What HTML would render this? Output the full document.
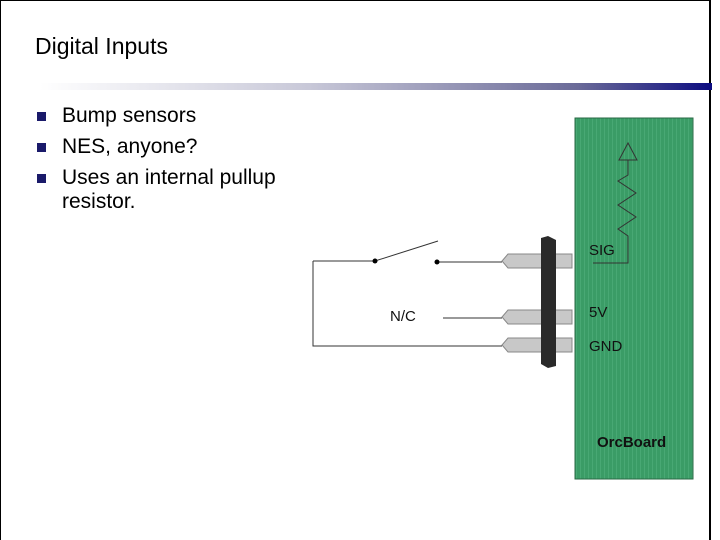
<!DOCTYPE html>
<html><head><style>
body{margin:0;width:720px;height:540px;overflow:hidden;background:#fff;font-family:"Liberation Sans",sans-serif;}
.t{position:absolute;left:35px;top:33px;font-size:23px;color:#000;}
.bar{position:absolute;left:40px;top:83px;width:672px;height:7px;background:linear-gradient(90deg,#fff 0%,#c8c8d8 40%,#6a6a98 80%,#0c0c80 100%);}
ul{position:absolute;left:34px;top:104px;margin:0;padding:0;list-style:none;font-size:21px;line-height:24px;}
li{position:relative;padding-left:28px;margin-bottom:7px;}
li:before{content:"";position:absolute;left:3px;top:8px;width:9px;height:9px;background:#1a1a6a;}
</style></head><body>
<div style="position:absolute;left:0;top:0;width:711px;height:540px;border-left:1px solid #000;border-top:1px solid #000;border-right:2px solid #000;box-sizing:border-box;"></div>
<div class="t">Digital Inputs</div>
<div class="bar"></div>
<ul><li>Bump sensors</li><li>NES, anyone?</li><li>Uses an internal pullup<br>resistor.</li></ul>
<svg width="720" height="540" style="position:absolute;left:0;top:0">
<defs><pattern id="p" width="4" height="4" patternUnits="userSpaceOnUse"><rect width="4" height="4" fill="#3a9c66"/><rect width="1" height="4" fill="#48a874"/></pattern></defs>
<rect x="575" y="118" width="118" height="361" fill="url(#p)" stroke="#2a6a45"/>
<g fill="#c8c8c8" stroke="#888">
<path d="M508,254 H572 V268 H508 L502,261 Z"/>
<path d="M508,310 H572 V324 H508 L502,317 Z"/>
<path d="M508,338 H572 V352 H508 L502,345 Z"/>
</g>
<path d="M541,238 L548,236 L556,240 L556,366 L548,368 L541,364 Z" fill="#2a2a2a"/>
<g stroke="#333" fill="none" stroke-width="1">
<path d="M313,261 V346 H502"/>
<path d="M313,261 H375 L438,241"/>
<path d="M437,262 H502"/>
<path d="M443,318 H502"/>
<path d="M593,263 H628 V236 L618,229 L636,217 L618,205 L636,193 L618,181 L628,175 V160"/>
<path d="M628,143 L619,160 H637 Z"/>
</g>
<circle cx="375" cy="261" r="2.5" fill="#000"/><circle cx="437" cy="262" r="2.5" fill="#000"/>
<g font-family="Liberation Sans" font-size="15" fill="#111">
<text x="390" y="321">N/C</text>
<text x="589" y="255">SIG</text>
<text x="589" y="317">5V</text>
<text x="589" y="351">GND</text>
<text x="597" y="447" font-weight="bold" font-size="15">OrcBoard</text>
</g>
</svg>
</body></html>
